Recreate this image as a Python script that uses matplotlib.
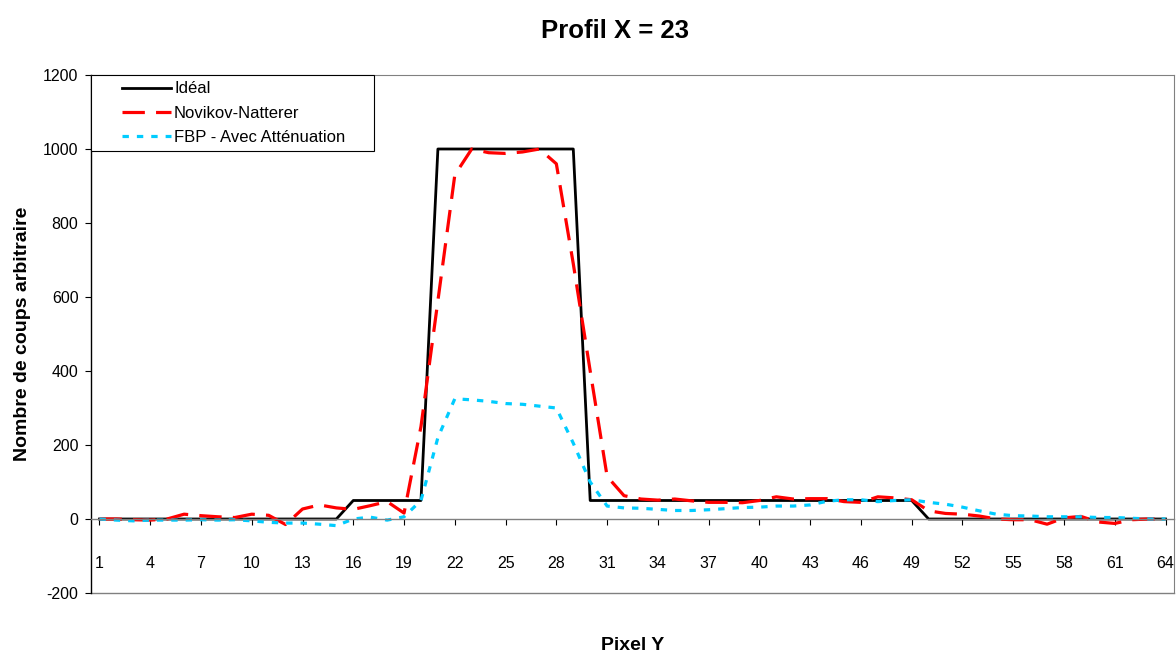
import numpy as np
import matplotlib.pyplot as plt
from matplotlib.legend_handler import HandlerLine2D

plt.rcParams['font.family'] = ['Liberation Sans', 'DejaVu Sans']
plt.rcParams['axes.unicode_minus'] = False

# Données (profil le long de Y, X = 23)
pixels = np.arange(1, 65)

ideal = [0] * 15 + [50] * 5 + [1000] * 9 + [50] * 20 + [0] * 15

novikov = [0, 0, -2, -3, 0, 13, 9, 6, 4, 13,
           10, -15, 27, 38, 30, 26, 36, 47, 16, 250,
           590, 930, 1000, 990, 988, 992, 1000, 960, 690, 400,
           115, 63, 54, 51, 54, 49, 45, 45, 44, 50,
           60, 54, 55, 55, 47, 45, 60, 57, 52, 22,
           15, 13, 8, 0, -2, -2, -14, 3, 7, -8,
           -12, -2, 0, 0]

fbp = [0, -3, -5, -3, -3, -3, -2, -3, -2, -5,
       -9, -11, -11, -14, -18, 0, 5, -3, 6, 50,
       220, 325, 322, 318, 312, 310, 305, 300, 205, 100,
       35, 30, 29, 26, 23, 23, 25, 28, 31, 32,
       35, 35, 38, 48, 52, 52, 47, 50, 52, 45,
       40, 32, 22, 13, 9, 8, 6, 6, 6, 4,
       4, 2, 0, 0]

xticks = np.arange(1, 65, 3)
yticks = np.arange(-200, 1201, 200)

fig = plt.figure(figsize=(11.76, 6.54), dpi=100)
ax = fig.add_axes([91 / 1176, 61 / 654, 1083 / 1176, 518 / 654])

ax.plot(pixels, ideal, color='black', lw=2.0, label='Idéal')
ax.plot(pixels, novikov, color='#FF0000', lw=2.3, dashes=(7, 3.5), label='Novikov-Natterer')
ax.plot(pixels, fbp, color='#00CCFF', lw=2.3, dashes=(2, 2.5), label='FBP - Avec Atténuation')

ax.set_xlim(0.5, 64.5)
ax.set_ylim(-200, 1200)
ax.set_xticks(xticks)
ax.set_yticks(yticks)

# axe des X au niveau de 0, comme dans Excel
ax.spines['bottom'].set_position(('data', 0))
ax.spines['bottom'].set_color('#808080')
ax.spines['bottom'].set_linewidth(1.0)
for s in ['top', 'right']:
    ax.spines[s].set_color('#808080')
    ax.spines[s].set_linewidth(0.8)
ax.spines['left'].set_linewidth(1.0)
# cadre bas de la zone de traçage
ax.axhline(-200, color='#808080', lw=1.0, clip_on=False)

ax.tick_params(axis='x', direction='out', length=4, pad=23, labelsize=11.5, color='black')
ax.tick_params(axis='y', direction='out', length=4, pad=5, labelsize=11.5)

ax.set_title('Profil X = 23', fontsize=18.5, fontweight='bold', x=(615 - 91) / 1083, pad=27)
ax.set_xlabel('Pixel Y', fontsize=14, fontweight='bold', va='center')
ax.xaxis.set_label_coords(0.5, -0.102)
ax.set_ylabel('Nombre de coups arbitraire', fontsize=14, fontweight='bold', va='center')
ax.yaxis.set_label_coords(-0.063, 0.5)

leg = ax.legend(loc='upper left', bbox_to_anchor=(0.0, 0.0, 0.2613, 1.0), mode='expand',
                borderaxespad=0, fontsize=12, handlelength=4.4, handletextpad=0.2,
                labelspacing=0.55, borderpad=0.38, fancybox=False, framealpha=1,
                edgecolor='black', handler_map={plt.Line2D: HandlerLine2D(xpad=1.5)})
leg.get_frame().set_linewidth(0.8)

fig.savefig('out.png', dpi=100)
